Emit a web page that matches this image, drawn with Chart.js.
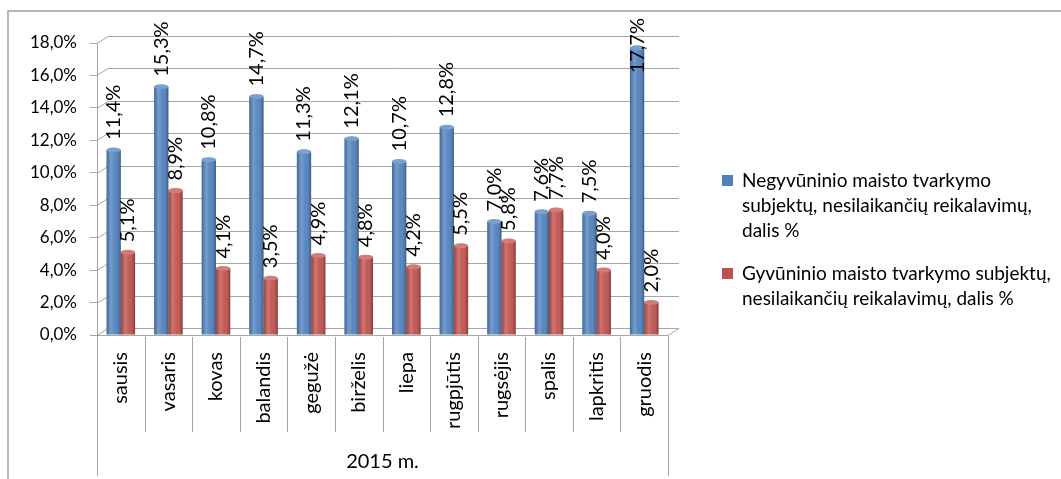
<!DOCTYPE html>
<html>
<head>
<meta charset="utf-8">
<script src="https://cdn.jsdelivr.net/npm/chart.js@4/dist/chart.umd.min.js"></script>
<style>
  body { margin: 0; background: #fff; }
  #wrap { width: 1061px; height: 479px; }
</style>
</head>
<body>
<div id="wrap"><canvas id="chart" width="1061" height="479"></canvas></div>
<script>
// values
const months = ['sausis', 'vasaris', 'kovas', 'balandis', 'gegužė', 'birželis', 'liepa', 'rugpjūtis', 'rugsėjis', 'spalis', 'lapkritis', 'gruodis'];
const nonAnimalShare = [11.4, 15.3, 10.8, 14.7, 11.3, 12.1, 10.7, 12.8, 7.0, 7.6, 7.5, 17.7];
const animalShare = [5.1, 8.9, 4.1, 3.5, 4.9, 4.8, 4.2, 5.5, 5.8, 7.7, 4.0, 2.0];
const yearLabel = '2015 m.';
// legend names, broken into lines as in the original
const nonAnimalName = ['Negyvūninio maisto tvarkymo', 'subjektų, nesilaikančių reikalavimų,', 'dalis %'];
const animalName = ['Gyvūninio maisto tvarkymo subjektų,', 'nesilaikančių reikalavimų, dalis %'];

const FONT = 'Lato, "Open Sans", sans-serif';
const GRID = '#a6a6a6';
const DX = 11, DY = 7; // depth offset of the 3d walls

const fmt = v => v.toFixed(1).replace('.', ',') + '%';

// frame, 3d grid walls
const walls = {
  id: 'walls',
  beforeDraw(chart) {
    const ctx = chart.ctx;
    ctx.save();
    ctx.strokeStyle = '#a0a0a0';
    ctx.lineWidth = 1.5;
    ctx.beginPath();
    ctx.moveTo(8, 479); ctx.lineTo(8, 11); ctx.lineTo(1061, 11);
    ctx.stroke();
    ctx.restore();
  },
  beforeDatasetsDraw(chart) {
    const { ctx, chartArea: a, scales: { y } } = chart;
    ctx.save();
    ctx.strokeStyle = GRID;
    ctx.lineWidth = 1;
    y.ticks.forEach(t => {
      const py = Math.round(y.getPixelForValue(t.value)) + 0.5;
      ctx.beginPath();
      ctx.moveTo(a.left, py);
      ctx.lineTo(a.left + DX, py - DY);
      ctx.lineTo(a.right + DX, py - DY);
      ctx.stroke();
    });
    // floor
    const py = Math.round(y.getPixelForValue(0)) + 0.5;
    ctx.beginPath();
    ctx.moveTo(a.left, py);
    ctx.lineTo(a.right, py);
    ctx.lineTo(a.right + DX, py - DY);
    ctx.stroke();
    ctx.restore();
  }
};

// cylinder-like shading, value labels, category separators, legend
const decor = {
  id: 'decor',
  afterDatasetsDraw(chart) {
    const ctx = chart.ctx;
    ctx.save();
    chart.data.datasets.forEach((ds, di) => {
      chart.getDatasetMeta(di).data.forEach(bar => {
        const { x, y, base, width } = bar.getProps(['x', 'y', 'base', 'width'], true);
        const l = x - width / 2, r = x + width / 2;
        const g = ctx.createLinearGradient(l, 0, r, 0);
        g.addColorStop(0, 'rgba(0,0,0,0.18)');
        g.addColorStop(0.3, 'rgba(255,255,255,0.22)');
        g.addColorStop(0.6, 'rgba(255,255,255,0.05)');
        g.addColorStop(1, 'rgba(0,0,0,0.3)');
        ctx.fillStyle = g;
        ctx.fillRect(l, y, width, base - y);
        ctx.beginPath();
        ctx.ellipse(x, y, width / 2, 2.5, 0, 0, Math.PI * 2);
        ctx.fillStyle = ds.backgroundColor;
        ctx.fill();
        ctx.fillStyle = 'rgba(255,255,255,0.25)';
        ctx.fill();
      });
    });
    ctx.restore();
  },
  afterDraw(chart) {
    const { ctx, chartArea: a } = chart;
    ctx.save();
    ctx.font = '20px ' + FONT;
    ctx.fillStyle = '#000';
    // value labels, rotated; pushed down when they'd leave the frame
    chart.data.datasets.forEach((ds, di) => {
      chart.getDatasetMeta(di).data.forEach((bar, i) => {
        const txt = fmt(ds.data[i]);
        const tw = ctx.measureText(txt).width;
        const start = Math.max(bar.y - 10, 18 + tw);
        ctx.save();
        ctx.translate(bar.x, start);
        ctx.rotate(-Math.PI / 2);
        ctx.textAlign = 'left';
        ctx.textBaseline = 'middle';
        ctx.fillText(txt, 0, 0);
        ctx.restore();
      });
    });
    // category separators and group row
    const w = (a.right - a.left) / months.length;
    ctx.strokeStyle = GRID;
    ctx.lineWidth = 1;
    ctx.beginPath();
    for (let i = 1; i < months.length; i++) {
      const px = Math.round(a.left + i * w) + 0.5;
      ctx.moveTo(px, a.bottom + 2); ctx.lineTo(px, 432);
    }
    ctx.moveTo(a.left + 0.5, a.bottom); ctx.lineTo(a.left + 0.5, 476);
    ctx.moveTo(a.right + 0.5, a.bottom); ctx.lineTo(a.right + 0.5, 476);
    ctx.stroke();
    ctx.textAlign = 'center';
    ctx.textBaseline = 'middle';
    ctx.fillText(yearLabel, (a.left + a.right) / 2, 462);

    // legend
    ctx.font = '19px ' + FONT;
    ctx.textAlign = 'left';
    let ly = 181;
    chart.data.datasets.forEach(ds => {
      const lines = ds.legendLines;
      ctx.fillStyle = ds.backgroundColor;
      ctx.fillRect(722, ly - 6, 11, 11);
      ctx.fillStyle = '#000';
      lines.forEach((ln, k) => ctx.fillText(ln, 742, ly + k * 25));
      ly += lines.length * 25 + 18;
    });
    ctx.restore();
  }
};

new Chart(document.getElementById('chart'), {
  type: 'bar',
  data: {
    labels: months,
    datasets: [
      { label: nonAnimalName.join(' '), legendLines: nonAnimalName, data: nonAnimalShare, backgroundColor: '#4f81bd' },
      { label: animalName.join(' '), legendLines: animalName, data: animalShare, backgroundColor: '#c0504d' }
    ]
  },
  options: {
    responsive: false,
    animation: false,
    layout: { padding: { top: 43, right: 393, left: 0, bottom: 0 } },
    plugins: { legend: { display: false }, tooltip: { enabled: false } },
    datasets: { bar: { categoryPercentage: 0.6, barPercentage: 1 } },
    scales: {
      x: {
        grid: { display: false },
        border: { display: true, color: GRID },
        ticks: { minRotation: 90, maxRotation: 90, padding: 9, color: '#000', font: { family: FONT, size: 20 } },
        afterFit: s => { s.height = 144; }
      },
      y: {
        min: 0, max: 18,
        grid: { drawOnChartArea: false, tickLength: 7, color: GRID },
        border: { display: true, color: GRID },
        ticks: { stepSize: 2, padding: 13, color: '#000', font: { family: FONT, size: 17 }, callback: v => fmt(v) },
        afterFit: s => { s.width = 97; }
      }
    }
  },
  plugins: [walls, decor]
});
</script>
</body>
</html>
